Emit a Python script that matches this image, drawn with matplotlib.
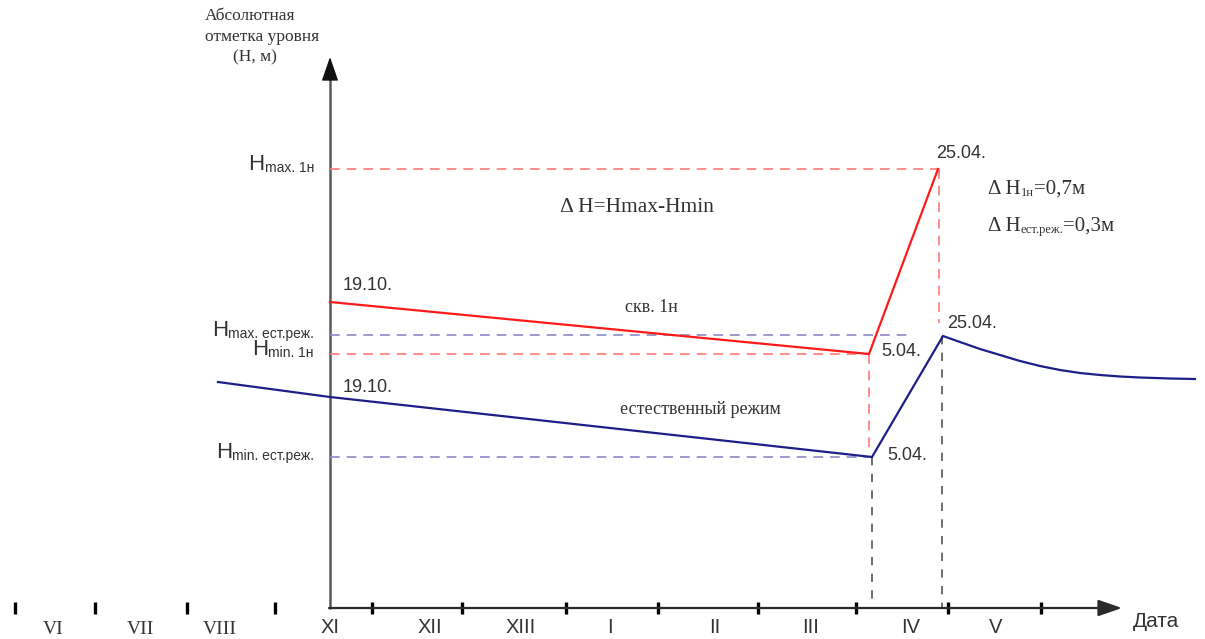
import matplotlib
matplotlib.use("Agg")
import matplotlib.pyplot as plt

plt.rcParams['lines.scale_dashes'] = False

# ---------------- data (schematic units: x = time, y = level) ----------------
red_x = [0, 539, 608]
red_y = [306, 254, 439]

blue_x = [-112, 0, 542, 613, 630, 650, 670, 690, 710, 730, 750, 770, 790, 810, 840, 865]
blue_y = [226, 211, 151, 272, 266, 259, 253, 247, 242, 238, 235, 233, 231.5, 230.5, 229.5, 229]

H_max_1n = 439
H_max_est = 273
H_min_1n = 254
H_min_est = 151

ylabel_suffix = ["max. 1н", "max. ест.реж.", "min. 1н", "min. ест.реж."]
ylabel_levels = [H_max_1n, H_max_est, H_min_1n, H_min_est]

axis_ticks = [42, 132, 236, 328, 428, 526, 618, 711]
detached_ticks = [-315, -235, -143, -55]
month_labels = ["VI", "VII", "VIII", "XI", "XII", "XIII", "I", "II", "III", "IV", "V"]
month_pos = [-277, -190, -110, 0, 100, 191, 280, 385, 481, 581, 666]
serif_months = {"VI", "VII", "VIII"}

# ---------------- figure ----------------
fig = plt.figure(figsize=(12.05, 6.39), dpi=100)
ax = fig.add_axes([0, 0, 1, 1])
ax.set_xlim(-330, 875)
ax.set_ylim(-31, 608)
ax.axis('off')

SANS = 'Liberation Sans'
SERIF = 'Liberation Serif'
TXT = '#333333'
RED = '#ff1a1a'
RED_D = '#ff7a7a'
BLUE = '#1e1e8a'
BLUE_D = '#8a8ac8'
GRAY_D = '#555555'

# axes arrows
ax.annotate('', xy=(792, 0), xytext=(-1, 0),
            arrowprops=dict(arrowstyle='-|>,head_length=1.45,head_width=0.5',
                            mutation_scale=10, lw=1.6, color='#2a2a2a',
                            shrinkA=0, shrinkB=0))
ax.plot([0, 0], [-1, 535], color='#5a5a5a', lw=1.8, solid_capstyle='butt')
ax.annotate('', xy=(0, 551), xytext=(0, 528),
            arrowprops=dict(arrowstyle='-|>,head_length=1.5,head_width=0.52',
                            mutation_scale=10, lw=1.0, color='#111111',
                            shrinkA=0, shrinkB=0))

# ticks
for t in axis_ticks + detached_ticks:
    ax.plot([t, t], [-6, 6], color='black', lw=2.4, solid_capstyle='butt')

for lab, p in zip(month_labels, month_pos):
    if lab in serif_months:
        ax.text(p, -26, lab, ha='center', va='baseline', fontsize=14,
                family=SERIF, color=TXT)
    else:
        ax.text(p, -25, lab, ha='center', va='baseline', fontsize=14.5,
                family=SANS, color=TXT)
ax.text(803, -19, "Дата", ha='left', va='baseline', fontsize=15, family=SANS, color=TXT)

# dashed guide lines
dash = (7, 5)
ax.plot([0, 608], [H_max_1n, H_max_1n], color=RED_D, lw=1.2, dashes=dash)
ax.plot([0, 539], [H_min_1n, H_min_1n], color=RED_D, lw=1.2, dashes=dash)
ax.plot([0, 578], [H_max_est, H_max_est], color=BLUE_D, lw=1.2, dashes=dash)
ax.plot([0, 542], [H_min_est, H_min_est], color=BLUE_D, lw=1.2, dashes=dash)
ax.plot([539, 539], [H_min_1n, 155], color=RED_D, lw=1.2, dashes=dash)
ax.plot([609, 609], [H_max_1n, 285], color=RED_D, lw=1.2, dashes=dash)
ax.plot([542, 542], [H_min_est, 0], color=GRAY_D, lw=1.2, dashes=(6, 6))
ax.plot([612, 612], [272, 0], color=GRAY_D, lw=1.2, dashes=(6, 6))

# main lines
ax.plot(red_x, red_y, color=RED, lw=1.6, solid_joinstyle='miter')
ax.plot(blue_x, blue_y, color=BLUE, lw=1.6, solid_joinstyle='miter')

# y labels: big H + small suffix
for suf, lvl in zip(ylabel_suffix, ylabel_levels):
    t = ax.text(-16, lvl - 3, suf, ha='right', va='baseline', fontsize=10,
                family=SANS, color=TXT)
    ax.annotate("H", xy=(0, 0), xycoords=t, ha='right', va='bottom',
                fontsize=16, family=SANS, color=TXT)

# y axis title
ax.text(-125, 592, "Абсолютная", ha='left', va='center', fontsize=12.5, family=SERIF, color=TXT)
ax.text(-125, 571, "отметка уровня", ha='left', va='center', fontsize=12.5, family=SERIF, color=TXT)
ax.text(-75, 551, "(H, м)", ha='center', va='center', fontsize=12.5, family=SERIF, color=TXT)

# date annotations
ax.text(13, 323, "19.10.", ha='left', va='center', fontsize=13, family=SANS, color=TXT)
ax.text(13, 221, "19.10.", ha='left', va='center', fontsize=13, family=SANS, color=TXT)
ax.text(551, 256, "5.04.", ha='left', va='center', fontsize=13, family=SANS, color=TXT)
ax.text(557, 152, "5.04.", ha='left', va='center', fontsize=13, family=SANS, color=TXT)
ax.text(606, 455, "25.04.", ha='left', va='center', fontsize=13, family=SANS, color=TXT)
ax.text(617, 284, "25.04.", ha='left', va='center', fontsize=13, family=SANS, color=TXT)

# series captions
ax.text(321, 300, "скв. 1н", ha='center', va='center', fontsize=13, family=SERIF, color=TXT)
ax.text(370, 198, "естественный режим", ha='center', va='center', fontsize=13, family=SERIF, color=TXT)
ax.text(307, 400, "Δ H=Hmax-Hmin", ha='center', va='center', fontsize=15.5, family=SERIF, color=TXT)


def rich(x, y, parts):
    prev = ax.text(x, y, parts[0][0], ha='left', va='baseline', fontsize=parts[0][1],
                   family=SERIF, color=TXT)
    for s, fs in parts[1:]:
        prev = ax.annotate(s, xy=(1, 0), xycoords=prev, ha='left', va='bottom',
                           fontsize=fs, family=SERIF, color=TXT)


rich(658, 414, [("Δ H", 15), ("1н", 9), ("=0,7м", 15)])
rich(658, 377, [("Δ H", 15), ("ест.реж.", 9), ("=0,3м", 15)])

fig.savefig("out.png", dpi=100)
